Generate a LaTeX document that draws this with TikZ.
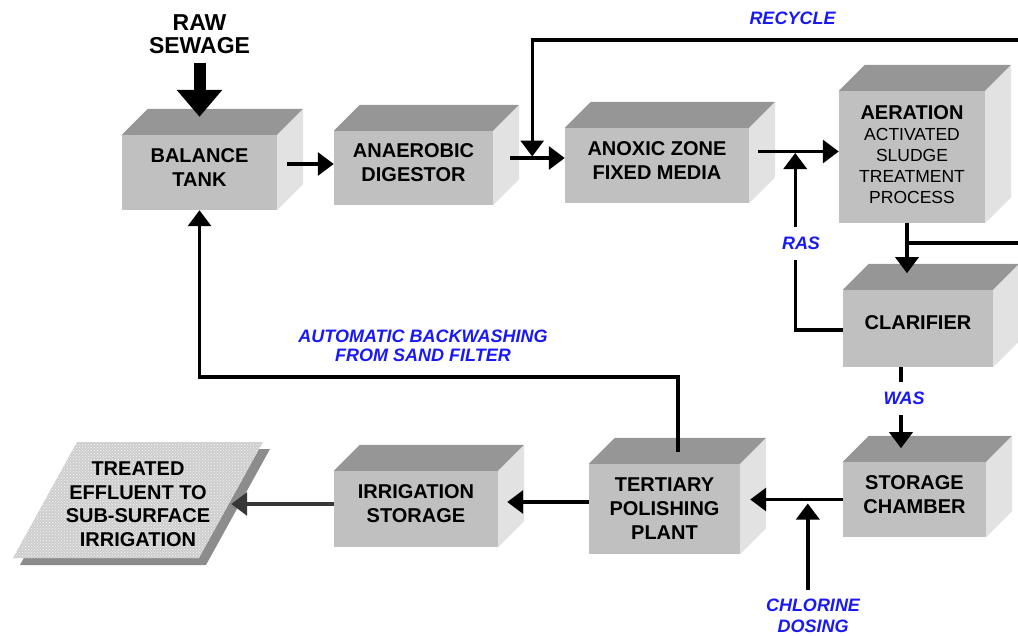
\documentclass[tikz,border=0pt]{standalone}
\usepackage{fontspec}
\setmainfont{Liberation Sans}
\usetikzlibrary{arrows.meta,calc,patterns}

\definecolor{frontgray}{RGB}{192,192,192}
\definecolor{topgray}{RGB}{150,150,150}
\definecolor{sidegray}{RGB}{226,226,226}
\definecolor{labelblue}{RGB}{25,25,245}
\definecolor{plategray}{RGB}{206,206,206}
\definecolor{shadowgray}{RGB}{140,140,140}
\definecolor{darkline}{RGB}{55,55,55}

% depth of the 3-D boxes
\newcommand\cubedepth{26}
% top and side faces of a box whose front face is node #1
\newcommand\cubefaces[1]{%
  \fill[topgray] (#1.north west) -- ++(\cubedepth,-\cubedepth)
    -- ([shift={(\cubedepth,-\cubedepth)}]#1.north east) -- (#1.north east) -- cycle;
  \fill[sidegray] (#1.north east) -- ++(\cubedepth,-\cubedepth)
    -- ([shift={(\cubedepth,-\cubedepth)}]#1.south east) -- (#1.south east) -- cycle;
}

\tikzset{
  cube/.style={fill=frontgray, align=center, inner sep=0pt, text depth=10pt,
    font=\fontsize{20}{24}\selectfont\bfseries},
  tag/.style={text=labelblue, align=center, inner sep=1pt,
    font=\fontsize{18}{19.5}\selectfont\bfseries\itshape},
  cut/.style={fill=white, inner xsep=3pt, inner ysep=10pt},
  flow/.style={line width=3.4pt, -{Triangle[width=23pt,length=16pt]}},
  pipe/.style={line width=3.4pt},
  bigarrow/.style={line width=12pt, -{Triangle[width=44pt,length=27pt]}},
}

\begin{document}
\begin{tikzpicture}[x=1pt,y=-1pt]
\useasboundingbox (0,0) rectangle (1018,635);
\clip (0,0) rectangle (1018,635);

% ---- process units ----
\node[cube, minimum width=155pt, minimum height=75pt] (balance) at (199.5,172.5) {BALANCE\\TANK};
\cubefaces{balance}
\node[cube, minimum width=159pt, minimum height=74pt] (anaerobic) at (413.5,168) {ANAEROBIC\\DIGESTOR};
\cubefaces{anaerobic}
\node[cube, minimum width=184pt, minimum height=75pt] (anoxic) at (657,165.5) {ANOXIC ZONE\\FIXED MEDIA};
\cubefaces{anoxic}
\node[cube, minimum width=146pt, minimum height=132pt, text depth=5pt,
      font=\fontsize{17.5}{21}\selectfont] (aeration) at (912,157)
  {{\fontsize{20}{21}\selectfont\bfseries AERATION}\\ACTIVATED\\SLUDGE\\TREATMENT\\PROCESS};
\cubefaces{aeration}
\node[cube, minimum width=150pt, minimum height=77pt, text depth=11pt] (clarifier) at (918,328.5) {CLARIFIER};
\cubefaces{clarifier}
\node[cube, minimum width=143pt, minimum height=75pt] (storage) at (914.5,499.5) {STORAGE\\CHAMBER};
\cubefaces{storage}
\node[cube, minimum width=151pt, minimum height=90pt, text depth=0pt] (tertiary) at (664.5,509) {TERTIARY\\POLISHING\\PLANT};
\cubefaces{tertiary}
\node[cube, minimum width=164pt, minimum height=76pt] (irrigation) at (416,509) {IRRIGATION\\STORAGE};
\cubefaces{irrigation}

% ---- outlet plate ----
\fill[shadowgray] (84,449) -- (270,449) -- (206,565) -- (20,565) -- cycle;
\fill[plategray] (77,442) -- (263,442) -- (199,558) -- (13,558) -- cycle;
\fill[pattern=crosshatch dots, pattern color=white!80!plategray] (77,442) -- (263,442) -- (199,558) -- (13,558) -- cycle;
\node[align=center, inner sep=0pt, minimum width=186pt, font=\fontsize{20}{23.5}\selectfont\bfseries]
  (effluent) at (138,504) {TREATED\\EFFLUENT TO\\SUB-SURFACE\\IRRIGATION};

% ---- inflow ----
\node[align=center, inner sep=0pt, font=\fontsize{23}{23}\selectfont\bfseries] (raw) at (199.5,34) {RAW\\SEWAGE};
\draw[bigarrow] ([yshift=-9pt]raw.south) -- ([yshift=18pt]balance.north);

% ---- main line ----
\path ($(balance.east)+(10,-8.5)$) coordinate (b1);
\draw[flow] (b1) -- (b1 -| anaerobic.west);
\path ($(anaerobic.east)+(17,-10)$) coordinate (a1);
\draw[flow] (a1) -- (a1 -| anoxic.west);
\path ($(anoxic.east)+(9,-14)$) coordinate (x1);
\draw[flow] (x1) -- (x1 -| aeration.west);

% ---- recycle ----
\coordinate (recyclein) at (1030,40);
\path ($(a1)+(22,-1.5)$) coordinate (rj);
\draw[flow] (recyclein) -| (rj);
\node[tag] (recycle) at (792.5,18.5) {RECYCLE};

% ---- return activated sludge ----
\path ($(x1)+(37,1.5)$) coordinate (rasj);
\draw[flow] ([yshift=-1.5pt]clarifier.west) -| (rasj);
\node[tag, cut] (ras) at (801,243.5) {RAS};

% ---- aeration to clarifier, and branch ----
\draw[flow] ([xshift=-5pt]aeration.south) coordinate (ae1) -- ++(0,50);
\coordinate (branchout) at (1030,243);
\draw[pipe] (ae1 |- branchout) -- (branchout);

% ---- waste activated sludge ----
\draw[flow] ([xshift=-17pt]clarifier.south) -- ++(0,81);
\node[tag, cut] (was) at (904,398.5) {WAS};

% ---- storage chamber to tertiary plant, chlorine ----
\path ($(tertiary.east)+(10,0)$) coordinate (t2);
\draw[flow] (storage.west) -- (storage.west -| t2);
\node[tag, font=\fontsize{18}{21}\selectfont\bfseries\itshape] (chlorine) at (813,616) {CHLORINE\\DOSING};
\path ($(storage.west)+(-35,4)$) coordinate (cj);
\draw[flow] ($(cj |- chlorine.north)+(0,-8)$) -- (cj);

% ---- backwash return ----
\draw[flow] ($(tertiary.north)+(13.5,-12)$) -- ++(0,-75) -| (balance.south);
\node[tag] (backwash) at (423,346) {AUTOMATIC BACKWASHING\\FROM SAND FILTER};

% ---- outlet ----
\path ($(tertiary.west)+(0,-7)$) coordinate (t3);
\path ($(irrigation.east)+(9,0)$) coordinate (i2);
\draw[flow] (t3) -- (t3 -| i2);
\draw[flow, darkline] (irrigation.west |- effluent.east) -- (effluent.east);
\end{tikzpicture}
\end{document}
